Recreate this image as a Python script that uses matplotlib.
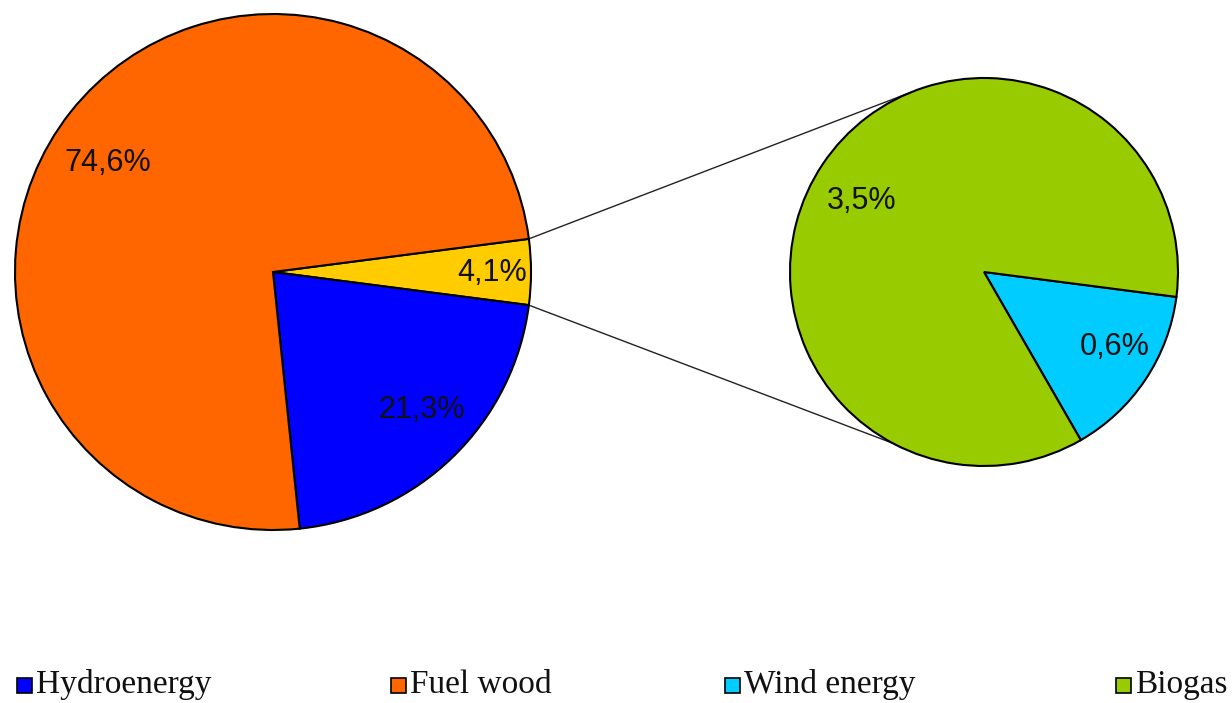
import numpy as np
import matplotlib
matplotlib.use("Agg")
import matplotlib.pyplot as plt
from matplotlib.patches import Rectangle

# ---- data ----
main_labels = ["Other", "Hydroenergy", "Fuel wood"]
main_values = [4.1, 21.3, 74.6]
main_colors = ["#FFCC00", "#0000FF", "#FF6600"]

sub_labels = ["Wind energy", "Biogas"]
sub_values = [0.6, 3.5]
sub_colors = ["#00CCFF", "#99CC00"]

legend_labels = ["Hydroenergy", "Fuel wood", "Wind energy", "Biogas"]
legend_colors = ["#0000FF", "#FF6600", "#00CCFF", "#99CC00"]

W, H = 1232, 703
fig = plt.figure(figsize=(W / 100, H / 100), dpi=100)
ax = fig.add_axes([0, 0, 1, 1])

def py(y):  # pixel-from-top -> data y
    return H - y

main_c = (273, py(272)); main_r = 258
sub_c = (984, py(272)); sub_r = 194

start_main = 360 * main_values[0] / sum(main_values) / 2
wedges_main, _ = ax.pie(main_values, colors=main_colors, center=main_c, radius=main_r,
                        startangle=start_main, counterclock=False, frame=True,
                        wedgeprops=dict(edgecolor="black", linewidth=1.5))
start_sub = -start_main
wedges_sub, _ = ax.pie(sub_values, colors=sub_colors, center=sub_c, radius=sub_r,
                       startangle=start_sub, counterclock=False, frame=True,
                       wedgeprops=dict(edgecolor="black", linewidth=1.5))

# connector lines
for a_main, a_sub in [(start_main, 112), (-start_main, -118)]:
    x0 = main_c[0] + main_r * np.cos(np.radians(a_main))
    y0 = main_c[1] + main_r * np.sin(np.radians(a_main))
    x1 = sub_c[0] + sub_r * np.cos(np.radians(a_sub))
    y1 = sub_c[1] + sub_r * np.sin(np.radians(a_sub))
    ax.plot([x0, x1], [y0, y1], color="#222222", linewidth=1.0, zorder=0)

def fmt(v):
    return f"{v:.1f}%".replace(".", ",")

lab_font = dict(family="Liberation Sans", fontsize=22, color="#111111",
                ha="center", va="center")
# label positions (pixel coords from top-left)
ax.text(108, py(163), fmt(main_values[2]), **lab_font)
ax.text(422, py(410), fmt(main_values[1]), **lab_font)
ax.text(492, py(273), fmt(main_values[0]), **lab_font)
ax.text(862, py(201), fmt(sub_values[1]), **lab_font)
ax.text(1115, py(347), fmt(sub_values[0]), **lab_font)

# legend
leg_x = [17, 391, 725, 1116]
for x, lab, col in zip(leg_x, legend_labels, legend_colors):
    ax.add_patch(Rectangle((x, py(693)), 15, 15, facecolor=col, edgecolor="black",
                           linewidth=1.2))
    ax.text(x + 19, py(693), lab, family="Liberation Serif", fontsize=24,
            color="#111111", ha="left", va="baseline")

ax.set_xlim(0, W)
ax.set_ylim(0, H)
ax.set_aspect("auto")
ax.axis("off")
fig.savefig("out.png", dpi=100)
